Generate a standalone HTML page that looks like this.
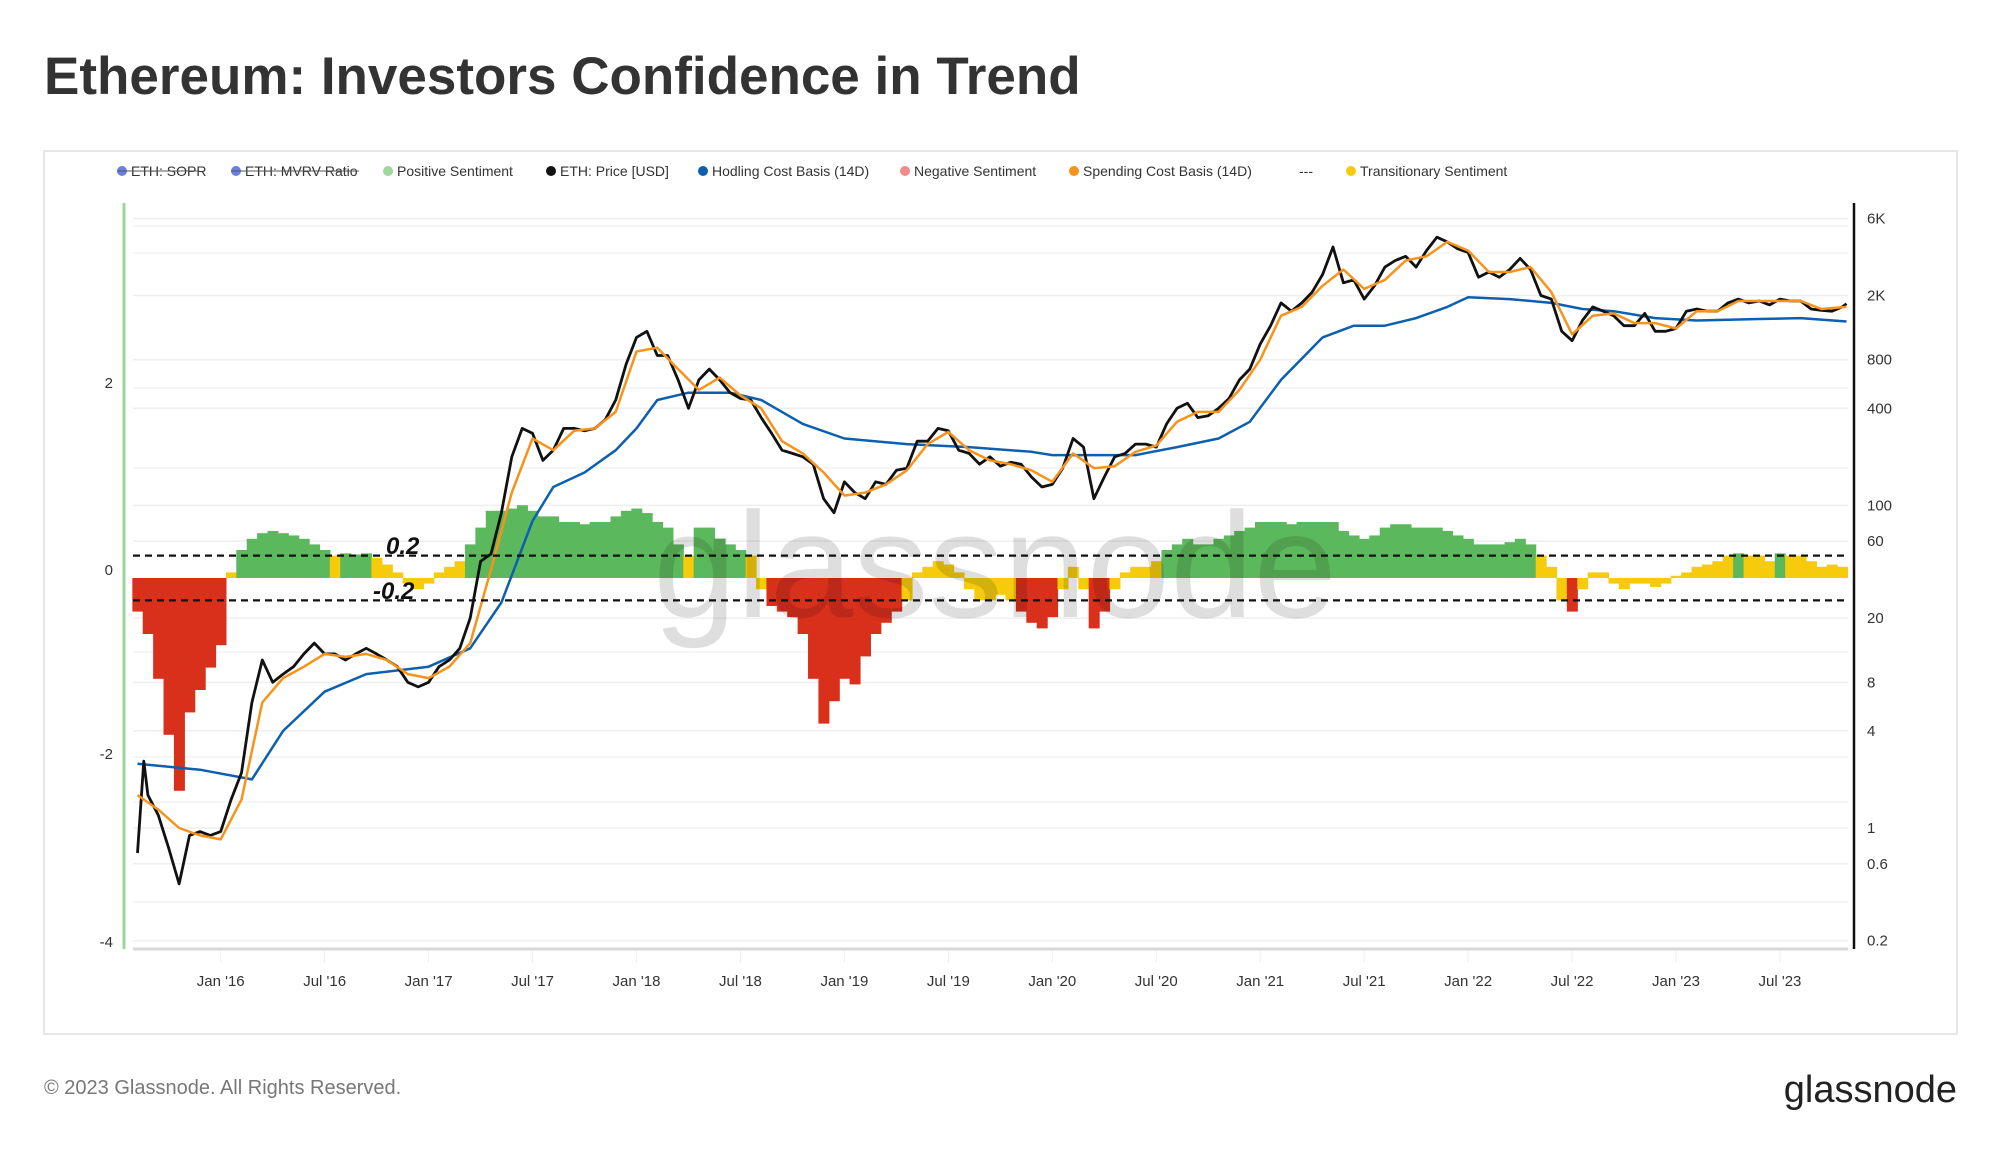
<!DOCTYPE html>
<html><head><meta charset="utf-8">
<style>
body{margin:0;background:#fff;font-family:"Liberation Sans",sans-serif;}
#wrap{position:relative;width:2000px;height:1152px;overflow:hidden;}
</style></head>
<body><div id="wrap">
<svg id="chart" width="2000" height="1152" xmlns="http://www.w3.org/2000/svg">
<text x="44" y="94" font-size="53" font-weight="bold" fill="#333" font-family="Liberation Sans, sans-serif">Ethereum: Investors Confidence in Trend</text>
<rect x="44" y="151" width="1913" height="883" fill="#fff" stroke="#e6e6e6" stroke-width="2"/>
<g id="legend" font-size="14" fill="#333"></g>
<g id="grid"></g>
<g id="bars"></g>
<text x="995" y="617" font-size="150" fill="#000" fill-opacity="0.13" text-anchor="middle">glassnode</text>
<g id="lines"></g>
<g id="axes"></g>
<text x="44" y="1094" font-size="20" fill="#777">© 2023 Glassnode. All Rights Reserved.</text>
<text x="1957" y="1102" font-size="38" fill="#222" text-anchor="end">glassnode</text>
</svg></div>
<script>
const priceT=[2015.6,2015.63,2015.65,2015.7,2015.75,2015.8,2015.85,2015.9,2015.95,2016.0,2016.05,2016.1,2016.15,2016.2,2016.25,2016.3,2016.35,2016.4,2016.45,2016.5,2016.55,2016.6,2016.65,2016.7,2016.75,2016.8,2016.85,2016.9,2016.95,2017.0,2017.05,2017.1,2017.15,2017.2,2017.25,2017.3,2017.35,2017.4,2017.45,2017.5,2017.55,2017.6,2017.65,2017.7,2017.75,2017.8,2017.85,2017.9,2017.95,2018.0,2018.05,2018.1,2018.15,2018.2,2018.25,2018.3,2018.35,2018.4,2018.45,2018.5,2018.55,2018.6,2018.65,2018.7,2018.75,2018.8,2018.85,2018.9,2018.95,2019.0,2019.05,2019.1,2019.15,2019.2,2019.25,2019.3,2019.35,2019.4,2019.45,2019.5,2019.55,2019.6,2019.65,2019.7,2019.75,2019.8,2019.85,2019.9,2019.95,2020.0,2020.05,2020.1,2020.15,2020.2,2020.25,2020.3,2020.35,2020.4,2020.45,2020.5,2020.55,2020.6,2020.65,2020.7,2020.75,2020.8,2020.85,2020.9,2020.95,2021.0,2021.05,2021.1,2021.15,2021.2,2021.25,2021.3,2021.35,2021.4,2021.45,2021.5,2021.55,2021.6,2021.65,2021.7,2021.75,2021.8,2021.85,2021.9,2021.95,2022.0,2022.05,2022.1,2022.15,2022.2,2022.25,2022.3,2022.35,2022.4,2022.45,2022.5,2022.55,2022.6,2022.65,2022.7,2022.75,2022.8,2022.85,2022.9,2022.95,2023.0,2023.05,2023.1,2023.15,2023.2,2023.25,2023.3,2023.35,2023.4,2023.45,2023.5,2023.55,2023.6,2023.65,2023.7,2023.75,2023.8,2023.82];
const priceV=[0.7,2.6,1.6,1.2,0.75,0.45,0.9,0.95,0.9,0.95,1.5,2.2,6,11,8,9,10,12,14,12,12,11,12,13,12,11,10,8,7.5,8,10,11,13,20,45,50,90,200,300,280,190,220,300,300,290,300,340,450,750,1100,1200,850,850,600,400,600,700,600,500,460,450,350,280,220,210,200,180,110,90,140,120,110,140,135,165,170,250,250,300,290,220,210,180,200,175,185,180,150,130,135,170,260,230,110,150,200,210,240,240,230,320,400,430,350,360,400,460,600,700,1000,1300,1800,1600,1800,2100,2700,4000,2400,2500,1900,2300,3000,3300,3500,3000,3800,4600,4300,3900,3700,2600,2800,2600,2900,3400,2900,2000,1900,1200,1050,1400,1700,1600,1500,1300,1300,1550,1200,1200,1250,1600,1650,1600,1600,1800,1900,1800,1850,1750,1900,1850,1850,1650,1620,1600,1700,1780];
const hodlT=[2015.6,2015.9,2016.15,2016.3,2016.5,2016.7,2017.0,2017.2,2017.35,2017.5,2017.6,2017.75,2017.9,2018.0,2018.1,2018.25,2018.45,2018.6,2018.8,2019.0,2019.3,2019.6,2019.9,2020.0,2020.4,2020.6,2020.8,2020.95,2021.1,2021.3,2021.45,2021.6,2021.75,2021.9,2022.0,2022.2,2022.4,2022.55,2022.7,2022.9,2023.1,2023.4,2023.6,2023.82];
const hodlV=[2.5,2.3,2.0,4,7,9,10,13,25,80,130,160,220,300,450,500,500,450,320,260,240,230,215,205,205,230,260,330,600,1100,1300,1300,1450,1700,1950,1900,1800,1650,1600,1450,1400,1430,1450,1380];
const spendT=[2015.6,2015.7,2015.8,2015.9,2016.0,2016.1,2016.2,2016.3,2016.4,2016.5,2016.6,2016.7,2016.8,2016.9,2017.0,2017.1,2017.2,2017.3,2017.4,2017.5,2017.6,2017.7,2017.8,2017.9,2018.0,2018.1,2018.2,2018.3,2018.4,2018.5,2018.6,2018.7,2018.8,2018.9,2019.0,2019.1,2019.2,2019.3,2019.4,2019.5,2019.6,2019.7,2019.8,2019.9,2020.0,2020.1,2020.2,2020.3,2020.4,2020.5,2020.6,2020.7,2020.8,2020.9,2021.0,2021.1,2021.2,2021.3,2021.4,2021.5,2021.6,2021.7,2021.8,2021.9,2022.0,2022.1,2022.2,2022.3,2022.4,2022.5,2022.6,2022.7,2022.8,2022.9,2023.0,2023.1,2023.2,2023.3,2023.4,2023.5,2023.6,2023.7,2023.82];
const spendV=[1.6,1.3,1.0,0.9,0.85,1.5,6,8.5,10,12,11.5,12,11,9,8.5,10,14,40,120,260,220,290,300,380,900,950,700,520,620,480,400,250,210,160,115,120,135,165,240,285,220,190,180,165,140,210,170,175,215,235,330,380,380,520,800,1500,1700,2300,2900,2200,2500,3300,3500,4300,3800,2800,2800,3000,2100,1150,1500,1550,1350,1350,1250,1600,1600,1850,1850,1850,1850,1650,1700];
const sentT=[2015.6,2015.65,2015.7,2015.75,2015.8,2015.85,2015.9,2015.95,2016.0,2016.05,2016.1,2016.15,2016.2,2016.25,2016.3,2016.35,2016.4,2016.45,2016.5,2016.55,2016.6,2016.65,2016.7,2016.75,2016.8,2016.85,2016.9,2016.95,2017.0,2017.05,2017.1,2017.15,2017.2,2017.25,2017.3,2017.35,2017.4,2017.45,2017.5,2017.55,2017.6,2017.65,2017.7,2017.75,2017.8,2017.85,2017.9,2017.95,2018.0,2018.05,2018.1,2018.15,2018.2,2018.25,2018.3,2018.35,2018.4,2018.45,2018.5,2018.55,2018.6,2018.65,2018.7,2018.75,2018.8,2018.85,2018.9,2018.95,2019.0,2019.05,2019.1,2019.15,2019.2,2019.25,2019.3,2019.35,2019.4,2019.45,2019.5,2019.55,2019.6,2019.65,2019.7,2019.75,2019.8,2019.85,2019.9,2019.95,2020.0,2020.05,2020.1,2020.15,2020.2,2020.25,2020.3,2020.35,2020.4,2020.45,2020.5,2020.55,2020.6,2020.65,2020.7,2020.75,2020.8,2020.85,2020.9,2020.95,2021.0,2021.05,2021.1,2021.15,2021.2,2021.25,2021.3,2021.35,2021.4,2021.45,2021.5,2021.55,2021.6,2021.65,2021.7,2021.75,2021.8,2021.85,2021.9,2021.95,2022.0,2022.05,2022.1,2022.15,2022.2,2022.25,2022.3,2022.35,2022.4,2022.45,2022.5,2022.55,2022.6,2022.65,2022.7,2022.75,2022.8,2022.85,2022.9,2022.95,2023.0,2023.05,2023.1,2023.15,2023.2,2023.25,2023.3,2023.35,2023.4,2023.45,2023.5,2023.55,2023.6,2023.65,2023.7,2023.75,2023.8];
const sentV=[-0.3,-0.5,-0.9,-1.4,-1.9,-1.2,-1.0,-0.8,-0.6,0.05,0.25,0.35,0.4,0.42,0.4,0.38,0.35,0.3,0.25,0.2,0.22,0.21,0.22,0.18,0.12,0.05,-0.05,-0.1,-0.05,0.05,0.1,0.15,0.3,0.45,0.6,0.6,0.62,0.65,0.6,0.55,0.55,0.5,0.5,0.48,0.5,0.5,0.55,0.6,0.62,0.58,0.5,0.45,0.3,0.2,0.45,0.45,0.35,0.3,0.25,0.2,-0.1,-0.25,-0.3,-0.35,-0.5,-0.9,-1.3,-1.1,-0.9,-0.95,-0.7,-0.5,-0.4,-0.3,-0.2,0.05,0.1,0.15,0.12,0.05,-0.1,-0.2,-0.2,-0.15,-0.2,-0.3,-0.4,-0.45,-0.35,-0.1,0.1,-0.1,-0.45,-0.3,-0.1,0.05,0.1,0.1,0.15,0.25,0.3,0.35,0.3,0.3,0.35,0.38,0.42,0.45,0.5,0.5,0.5,0.48,0.5,0.5,0.5,0.5,0.42,0.38,0.35,0.38,0.45,0.48,0.48,0.45,0.45,0.45,0.42,0.38,0.35,0.3,0.3,0.3,0.32,0.35,0.3,0.2,0.1,-0.2,-0.3,-0.1,0.05,0.05,-0.05,-0.1,-0.05,-0.05,-0.08,-0.05,0.02,0.05,0.1,0.12,0.15,0.2,0.22,0.2,0.2,0.15,0.22,0.2,0.2,0.15,0.1,0.12,0.1];
const xTickLabels=["Jan '16","Jul '16","Jan '17","Jul '17","Jan '18","Jul '18","Jan '19","Jul '19","Jan '20","Jul '20","Jan '21","Jul '21","Jan '22","Jul '22","Jan '23","Jul '23"];
const rightTicks=[6000,2000,800,400,100,60,20,8,4,1,0.6,0.2];
const rightTickLabels=["6K","2K","800","400","100","60","20","8","4","1","0.6","0.2"];
const leftTicks=[2,0,-2,-4];
const NS="http://www.w3.org/2000/svg";
const PL=133,PR=1848;
function X(t){return 220.7+(t-2016)*207.9;}
function YP(v){return 828-Math.log10(v)*161.3;}
function YS(v){return 578-v*112;}
function mk(tag,attrs,parent,txt){const e=document.createElementNS(NS,tag);for(const k in attrs)e.setAttribute(k,attrs[k]);if(txt!=null)e.textContent=txt;parent.appendChild(e);return e;}
const grid=document.getElementById('grid'),bars=document.getElementById('bars'),lines=document.getElementById('lines'),axes=document.getElementById('axes'),legend=document.getElementById('legend');
rightTicks.forEach(v=>{const l=mk('line',{x1:PL,x2:PR,y1:YP(v),y2:YP(v),stroke:'#efefef','stroke-width':1.5},grid);

});
[226,253,388,468,652,757,802,902].forEach(y=>mk('line',{x1:PL,x2:PR,y1:y,y2:y,stroke:'#f3f3f3','stroke-width':1.5},grid));
mk('line',{x1:PL,x2:PR,y1:949,y2:949,stroke:'#d8d8d8','stroke-width':3},grid);
xTickLabels.forEach((s,i)=>{const t=2016+i*0.5;mk('line',{x1:X(t),x2:X(t),y1:950,y2:963,stroke:'#eee','stroke-width':1},grid);
const tx=mk('text',{x:X(t),y:986,'font-size':15,fill:'#333','text-anchor':'middle'},axes,s);

});
const step=0.05*207.9;
sentT.forEach((t,i)=>{const v=sentV[i];const c=v>0.2?'#5cb85c':(v<-0.2?'#d9301c':'#f5cb0c');
const y0=YS(0),y1=YS(v);
const r=mk('rect',{x:X(t)-step/2,y:Math.min(y0,y1),width:step+0.6,height:Math.abs(y1-y0),fill:c},bars);

});
function path(T,V,col,w,name){let d='';T.forEach((t,i)=>{d+=(i?'L':'M')+X(t).toFixed(1)+','+YP(V[i]).toFixed(1);});
const p=mk('path',{d:d,fill:'none',stroke:col,'stroke-width':w,'stroke-linejoin':'round'},lines);

}
path(hodlT,hodlV,'#0d5fb0',2.5,'hodling-cost-basis-line');
path(priceT,priceV,'#111',2.8,'eth-price-line');
path(spendT,spendV,'#f7931a',2.5,'spending-cost-basis-line');
[0.2,-0.2].forEach(v=>{const l=mk('line',{x1:PL,x2:PR,y1:YS(v),y2:YS(v),stroke:'#111','stroke-width':2.2,'stroke-dasharray':'7,5'},lines);

});
mk('text',{x:386,y:554,'font-size':24,'font-weight':'bold','font-style':'italic',fill:'#111'},lines,'0.2');
mk('text',{x:373,y:599,'font-size':24,'font-weight':'bold','font-style':'italic',fill:'#111'},lines,'-0.2');
mk('line',{x1:124,x2:124,y1:203,y2:949,stroke:'#9bd59b','stroke-width':3},axes);
mk('line',{x1:1854,x2:1854,y1:203,y2:949,stroke:'#111','stroke-width':2.5},axes);
const leftY={"2":388,"0":575,"-2":759,"-4":947};
leftTicks.forEach(v=>{const t=mk('text',{x:113,y:leftY[v],'font-size':15,fill:'#333','text-anchor':'end'},axes,String(v));

});
rightTicks.forEach((v,i)=>{const t=mk('text',{x:1867,y:YP(v)+5,'font-size':15,fill:'#333'},axes,rightTickLabels[i]);

});
const leg=[[122,'#6b7fe0','ETH: SOPR',1],[236,'#6b7fe0','ETH: MVRV Ratio',1],[388,'#9ed79e','Positive Sentiment',0],[551,'#111','ETH: Price [USD]',0],[703,'#0d5fb0','Hodling Cost Basis (14D)',0],[905,'#f28b8b','Negative Sentiment',0],[1074,'#f7931a','Spending Cost Basis (14D)',0],[1299,null,'---',0],[1351,'#f5cb0c','Transitionary Sentiment',0]];
leg.forEach(e=>{const g=mk('g',{},legend);


let tx=e[0];if(e[1]){mk('circle',{cx:e[0],cy:171,r:5,fill:e[1]},g);tx=e[0]+9;}
mk('text',{x:tx,y:176,'font-size':14,fill:'#333'},g,e[2]);
if(e[3])mk('line',{x1:e[0]-5,x2:tx+(e[2].length*7.6),y1:171,y2:171,stroke:'#555','stroke-width':1},g);});
</script>
</body></html>
